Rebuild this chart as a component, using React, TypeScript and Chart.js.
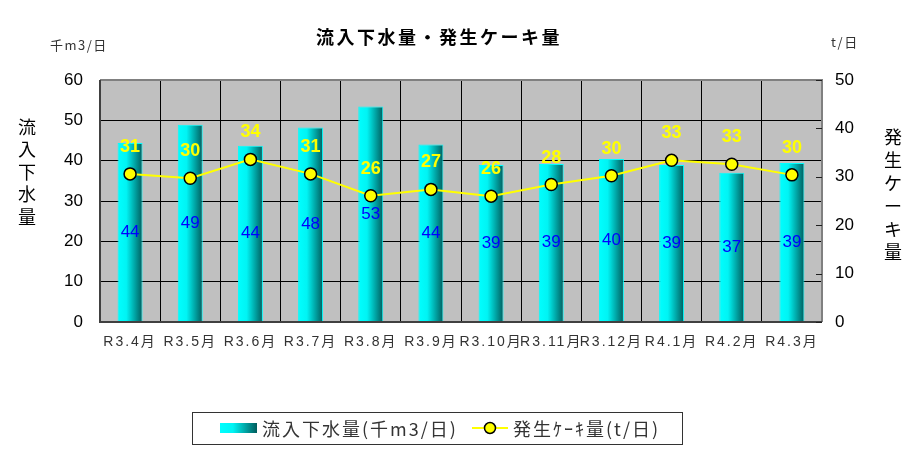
import { useRef, useEffect } from "react";
import { Chart, CategoryScale, registerables } from "chart.js";

// category axis whose labels get a little extra letter spacing
class SpacedCategoryScale extends CategoryScale {
  static id = "spacedCategory";
  static defaults = CategoryScale.defaults;
  drawLabels(area: any) {
    const ctx: any = this.ctx;
    ctx.save();
    ctx.letterSpacing = "2px";
    super.drawLabels(area);
    ctx.restore();
  }
}

Chart.register(...registerables, SpacedCategoryScale);

const categories = ["R3.4月", "R3.5月", "R3.6月", "R3.7月", "R3.8月", "R3.9月", "R3.10月", "R3.11月", "R3.12月", "R4.1月", "R4.2月", "R4.3月"];
const inflow = [44.4, 48.9, 43.7, 48.2, 53.4, 44.0, 38.9, 39.2, 40.4, 38.9, 37.0, 39.4];
const cake = [30.6, 29.7, 33.6, 30.6, 26.1, 27.4, 26.0, 28.4, 30.2, 33.4, 32.6, 30.4];
const leftTicks = [0, 10, 20, 30, 40, 50, 60];
const rightTicks = [0, 10, 20, 30, 40, 50];

const title = "流入下水量・発生ケーキ量";
const leftUnit = "千m3/日";
const rightUnit = "t/日";
const leftTitle = "流入下水量";
const rightTitle = "発生ケーキ量";
const inflowLabel = "流入下水量(千m3/日)";
const cakeLabel = "発生ｹｰｷ量(t/日)";

const NUM = "'Liberation Sans', 'Noto Sans CJK JP', sans-serif";
const JP = "'Noto Sans CJK JP', sans-serif";
const BAR_PCT = 0.415;

function barGradient(ctx: CanvasRenderingContext2D, x0: number, x1: number) {
  const g = ctx.createLinearGradient(x0, 0, x1, 0);
  g.addColorStop(0, "#00ffff");
  g.addColorStop(0.35, "#00f4f4");
  g.addColorStop(1, "#005c5c");
  return g;
}

const extras = {
  id: "extras",
  beforeDraw(chart: any) {
    const { ctx, chartArea: a } = chart;
    ctx.save();
    ctx.fillStyle = "#c0c0c0";
    ctx.fillRect(a.left, a.top, a.right - a.left, a.bottom - a.top);
    ctx.restore();
  },
  afterDatasetsDraw(chart: any) {
    const { ctx } = chart;
    ctx.save();
    ctx.textAlign = "center";
    ctx.textBaseline = "middle";
    // bar labels
    const barMeta = chart.getDatasetMeta(1);
    ctx.font = `17px ${NUM}`;
    ctx.fillStyle = "#0000ff";
    barMeta.data.forEach((el: any, i: number) => {
      ctx.fillText(String(Math.round(inflow[i])), el.x, (el.y + el.base) / 2);
    });
    // line labels
    const lineMeta = chart.getDatasetMeta(0);
    ctx.font = `bold 18px ${NUM}`;
    ctx.fillStyle = "#ffff00";
    lineMeta.data.forEach((el: any, i: number) => {
      ctx.fillText(String(Math.round(cake[i])), el.x, el.y - 27);
    });
    ctx.restore();
  },
  afterDraw(chart: any) {
    const { ctx, chartArea: a } = chart;
    const y1 = chart.scales.y1;
    ctx.save();
    // frame
    ctx.lineWidth = 2;
    ctx.strokeStyle = "#808080";
    ctx.beginPath();
    ctx.moveTo(a.left, a.top);
    ctx.lineTo(a.right, a.top);
    ctx.lineTo(a.right, a.bottom);
    ctx.stroke();
    ctx.strokeStyle = "#404040";
    ctx.beginPath();
    ctx.moveTo(a.left, a.top);
    ctx.lineTo(a.left, a.bottom);
    ctx.lineTo(a.right, a.bottom);
    ctx.stroke();
    // right axis ticks
    ctx.lineWidth = 1;
    ctx.strokeStyle = "#202020";
    rightTicks.forEach((v) => {
      const y = Math.round(y1.getPixelForValue(v)) + 0.5;
      ctx.beginPath();
      ctx.moveTo(a.right - 6, y);
      ctx.lineTo(a.right, y);
      ctx.stroke();
    });

    // title and axis texts
    ctx.fillStyle = "#000";
    ctx.textAlign = "left";
    ctx.textBaseline = "middle";
    ctx.font = `bold 18px ${JP}`;
    ctx.letterSpacing = "2.5px";
    ctx.fillText(title, 316, 37);
    ctx.letterSpacing = "0px";
    ctx.textAlign = "center";
    ctx.font = `18px ${JP}`;
    [...leftTitle].forEach((ch, i) => ctx.fillText(ch, 27, 127 + i * 22.5));
    [...rightTitle].forEach((ch, i) => ctx.fillText(ch, 893, 137 + i * 23));
    ctx.font = `13px ${JP}`;
    ctx.fillStyle = "#333";
    ctx.textAlign = "left";
    ctx.letterSpacing = "1.5px";
    ctx.fillText(leftUnit, 50, 45);
    ctx.fillText(rightUnit, 831, 42);

    // legend
    ctx.letterSpacing = "0px";
    ctx.strokeStyle = "#333";
    ctx.lineWidth = 1;
    ctx.strokeRect(192.5, 412.5, 490, 32);
    ctx.fillStyle = barGradient(ctx, 220, 257);
    ctx.fillRect(220, 423, 37, 10);
    ctx.fillStyle = "#333";
    ctx.font = `18px ${JP}`;
    ctx.letterSpacing = "2px";
    ctx.fillText(inflowLabel, 262, 429);
    ctx.fillText(cakeLabel, 513, 429);
    ctx.letterSpacing = "0px";
    ctx.strokeStyle = "#ffff00";
    ctx.lineWidth = 2;
    ctx.beginPath();
    ctx.moveTo(472, 428);
    ctx.lineTo(508, 428);
    ctx.stroke();
    ctx.beginPath();
    ctx.arc(490, 428, 5.5, 0, Math.PI * 2);
    ctx.fillStyle = "#ffff00";
    ctx.fill();
    ctx.strokeStyle = "#000";
    ctx.lineWidth = 1.5;
    ctx.stroke();
    ctx.restore();
  },
};

export default function App() {
  const canvasRef = useRef<HTMLCanvasElement>(null);

  useEffect(() => {
    let chart: Chart;
    if (canvasRef.current) {
      chart = new Chart(canvasRef.current, {
        type: "bar",
        data: {
          labels: categories,
          datasets: [
            {
              type: "line",
              label: cakeLabel,
              data: cake,
              yAxisID: "y1",
              order: 0,
              borderColor: "#ffff00",
              borderWidth: 2,
              pointRadius: 6,
              pointBackgroundColor: "#ffff00",
              pointBorderColor: "#000",
              pointBorderWidth: 1.5,
              tension: 0,
            },
            {
              type: "bar",
              label: inflowLabel,
              data: inflow,
              yAxisID: "y",
              order: 1,
              borderColor: "#00ffff",
              borderWidth: 1,
              barPercentage: BAR_PCT,
              categoryPercentage: 1.0,
              backgroundColor: (c: any) => {
                if (c.type !== "data") return "#00ffff";
                const x = c.chart.scales.x;
                if (!x) return "#00ffff";
                const cx = x.getPixelForValue(c.dataIndex);
                const w = ((x.right - x.left) / categories.length) * BAR_PCT;
                if (!isFinite(cx) || !isFinite(w) || w <= 0) return "#00ffff";
                return barGradient(c.chart.ctx, cx - w / 2, cx + w / 2);
              },
            },
          ] as any,
        },
        options: {
          responsive: true,
          maintainAspectRatio: false,
          animation: false,
          layout: { padding: { left: 50, right: 0, top: 80, bottom: 96 } },
          plugins: {
            legend: { display: false },
            tooltip: { enabled: false },
          },
          scales: {
            x: {
              type: "spacedCategory" as any,
              offset: true,
              grid: { color: "#000", lineWidth: 1, drawTicks: false, offset: true },
              border: { display: false },
              ticks: { color: "#333", font: { size: 14, family: NUM }, padding: 12, maxRotation: 0, autoSkip: false },
              afterFit: (s: any) => { s.height = 40; },
            },
            y: {
              position: "left",
              min: leftTicks[0],
              max: leftTicks[leftTicks.length - 1],
              afterBuildTicks: (s: any) => { s.ticks = leftTicks.map((v) => ({ value: v })); },
              grid: { color: "#000", lineWidth: 1, drawTicks: false },
              border: { display: false },
              ticks: { color: "#000", font: { size: 17, family: NUM }, padding: 17 },
              afterFit: (s: any) => { s.width = 50; },
            },
            y1: {
              position: "right",
              min: rightTicks[0],
              max: rightTicks[rightTicks.length - 1],
              afterBuildTicks: (s: any) => { s.ticks = rightTicks.map((v) => ({ value: v })); },
              grid: { drawOnChartArea: false, drawTicks: false },
              border: { display: false },
              ticks: { color: "#000", font: { size: 17, family: NUM }, padding: 13 },
              afterFit: (s: any) => { s.width = 91; },
            },
          },
        } as any,
        plugins: [extras],
      });
    }
    return () => {
      if (chart) {
        chart.destroy();
      }
    };
  }, []);

  return (
    <div style={{ position: "absolute", left: 0, top: 0, width: 913, height: 458, background: "#fff" }}>
      <canvas ref={canvasRef}></canvas>
    </div>
  );
}
